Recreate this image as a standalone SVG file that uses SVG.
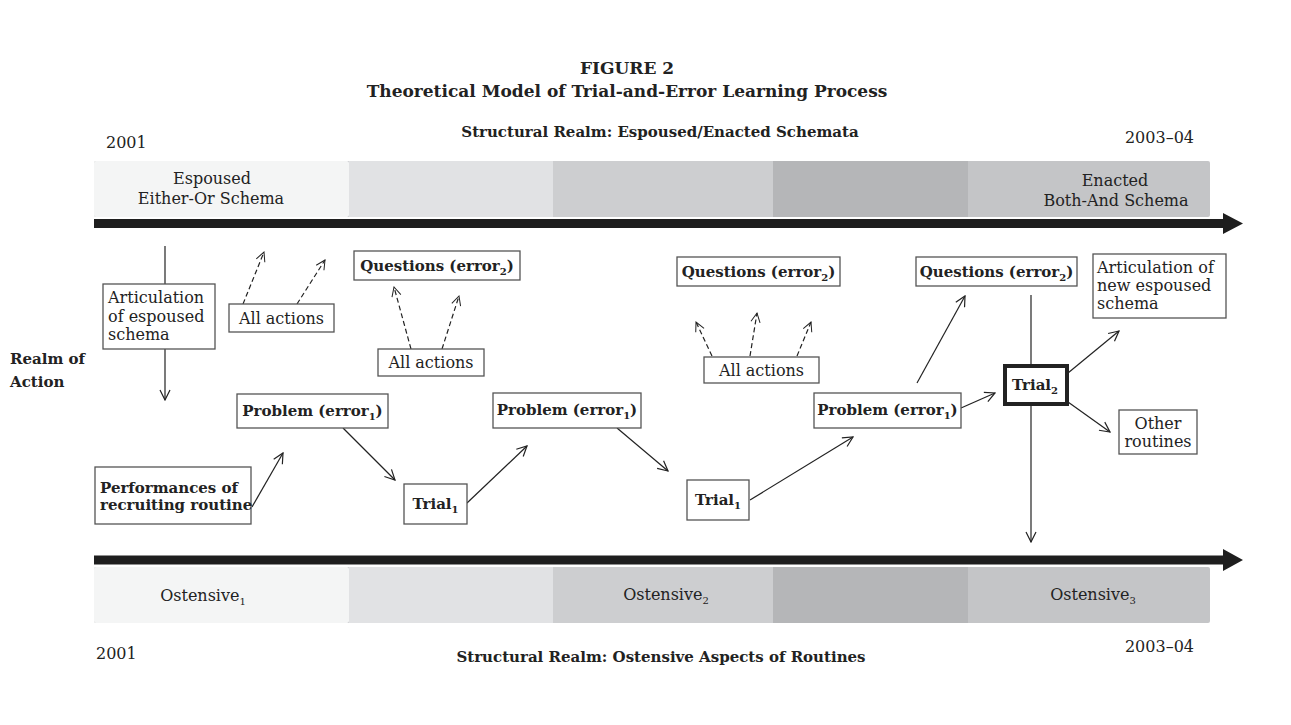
<svg xmlns="http://www.w3.org/2000/svg" width="1291" height="725" viewBox="0 0 1291 725">
<defs>
<marker id="ah" viewBox="0 0 12 12" refX="11" refY="6" markerWidth="12" markerHeight="12" markerUnits="userSpaceOnUse" orient="auto">
<path d="M1,1 L11,6 L1,11" fill="none" stroke="#222" stroke-width="1.2"/>
</marker>
<marker id="ahd" viewBox="0 0 12 12" refX="11" refY="6" markerWidth="11" markerHeight="11" markerUnits="userSpaceOnUse" orient="auto">
<path d="M1,1 L11,6 L1,11" fill="none" stroke="#222" stroke-width="1.1"/>
</marker>
</defs>
<style>
.bg{fill:#ffffff}
.box{fill:#ffffff;stroke:#555;stroke-width:1.3}
.thick{fill:#ffffff;stroke:#222;stroke-width:4}
.t{font-family:"DejaVu Serif","Liberation Serif",serif;font-size:16px;fill:#222}
.b{font-family:"DejaVu Serif","Liberation Serif",serif;font-size:15px;font-weight:bold;fill:#222}
.h{font-family:"DejaVu Serif","Liberation Serif",serif;font-size:17px;font-weight:bold;fill:#222}
.sub{font-size:10px}
.mid{text-anchor:middle}
.c{stroke:#222;stroke-width:1.2;fill:none}
.c1{marker-end:url(#ah)}
.d{stroke-dasharray:5 3;marker-end:url(#ahd)}
.axis{fill:#1e1e1e}
</style>
<rect class="bg" x="0" y="0" width="1291" height="725"/>

<!-- titles -->
<g id="titles">
<text class="h mid" x="627" y="74">FIGURE 2</text>
<text class="h mid" x="627" y="97">Theoretical Model of Trial-and-Error Learning Process</text>
<text class="b mid" x="660" y="137">Structural Realm: Espoused/Enacted Schemata</text>
<text class="t" x="106" y="148">2001</text>
<text class="t" x="1194" y="143" text-anchor="end">2003–04</text>
<text class="b mid" x="661" y="662">Structural Realm: Ostensive Aspects of Routines</text>
<text class="t" x="96" y="659">2001</text>
<text class="t" x="1194" y="652" text-anchor="end">2003–04</text>
<text class="b" x="10" y="364">Realm of</text>
<text class="b" x="10" y="387">Action</text>
</g>

<!-- top band -->
<g id="top-band">
<rect x="94" y="161" width="1116" height="56" rx="2" fill="#c4c5c7"/>
<rect x="94" y="161" width="255" height="56" rx="2" fill="#f4f5f5"/>
<rect x="349" y="161" width="204" height="56" fill="#e1e2e4"/>
<rect x="553" y="161" width="220" height="56" fill="#cdced0"/>
<rect x="773" y="161" width="195" height="56" fill="#b5b6b8"/>
<text class="t mid" x="212" y="184">Espoused</text>
<text class="t mid" x="211" y="204">Either-Or Schema</text>
<text class="t mid" x="1115" y="186">Enacted</text>
<text class="t mid" x="1116" y="206">Both-And Schema</text>
<path class="axis" d="M94,219 H1223 V213 L1243,223.5 L1223,234 V228 H94 Z"/>
</g>

<!-- bottom band -->
<g id="bottom-band">
<rect x="94" y="567" width="1116" height="56" rx="2" fill="#c4c5c7"/>
<rect x="94" y="567" width="255" height="56" rx="2" fill="#f4f5f5"/>
<rect x="349" y="567" width="204" height="56" fill="#e1e2e4"/>
<rect x="553" y="567" width="220" height="56" fill="#cdced0"/>
<rect x="773" y="567" width="195" height="56" fill="#b5b6b8"/>
<text class="t mid" x="203" y="601">Ostensive<tspan class="sub" dy="4">1</tspan></text>
<text class="t mid" x="666" y="600">Ostensive<tspan class="sub" dy="4">2</tspan></text>
<text class="t mid" x="1093" y="600">Ostensive<tspan class="sub" dy="4">3</tspan></text>
<path class="axis" d="M94,555.5 H1223 V549 L1243,560 L1223,571 V564.5 H94 Z"/>
</g>

<!-- connectors -->
<g id="connectors">
<line class="c" x1="165" y1="246" x2="165" y2="284"/>
<line class="c c1" x1="165" y1="349" x2="165" y2="400"/>
<line class="c d" x1="243" y1="304" x2="264" y2="252"/>
<line class="c d" x1="297" y1="304" x2="325" y2="260"/>
<line class="c d" x1="411" y1="349" x2="394" y2="287"/>
<line class="c d" x1="442" y1="349" x2="459" y2="296"/>
<line class="c d" x1="712" y1="356" x2="696" y2="322"/>
<line class="c d" x1="750" y1="356" x2="757" y2="313"/>
<line class="c d" x1="797" y1="356" x2="811" y2="322"/>
<line class="c c1" x1="252" y1="507" x2="283" y2="453"/>
<line class="c c1" x1="343" y1="428" x2="395" y2="480"/>
<line class="c c1" x1="467" y1="503" x2="527" y2="446"/>
<line class="c c1" x1="617" y1="428" x2="668" y2="471"/>
<line class="c c1" x1="750" y1="500" x2="853" y2="437"/>
<line class="c c1" x1="917" y1="383" x2="965" y2="296"/>
<line class="c c1" x1="961" y1="408" x2="995" y2="393"/>
<line class="c" x1="1031" y1="295" x2="1031" y2="364"/>
<line class="c c1" x1="1031" y1="405" x2="1031" y2="542"/>
<line class="c c1" x1="1068" y1="373" x2="1119" y2="331"/>
<line class="c c1" x1="1068" y1="402" x2="1110" y2="432"/>
</g>

<!-- nodes -->
<g id="articulation">
<rect class="box" x="103" y="284" width="112" height="65"/>
<text class="t" x="108" y="303">Articulation</text>
<text class="t" x="108" y="322">of espoused</text>
<text class="t" x="108" y="340">schema</text>
</g>
<g id="all-actions-1">
<rect class="box" x="229" y="304" width="105" height="28"/>
<text class="t mid" x="281.5" y="324">All actions</text>
</g>
<g id="questions-1">
<rect class="box" x="354" y="251" width="166" height="29"/>
<text class="b mid" x="437" y="271">Questions (error<tspan class="sub" dy="4">2</tspan><tspan dy="-4">)</tspan></text>
</g>
<g id="all-actions-2">
<rect class="box" x="378" y="349" width="106" height="27"/>
<text class="t mid" x="431" y="368">All actions</text>
</g>
<g id="problem-1">
<rect class="box" x="237" y="394" width="151" height="34"/>
<text class="b mid" x="312.5" y="416">Problem (error<tspan class="sub" dy="4">1</tspan><tspan dy="-4">)</tspan></text>
</g>
<g id="performances">
<rect class="box" x="95" y="467" width="156" height="57"/>
<text class="b" x="100" y="493">Performances of</text>
<text class="b" x="100" y="510">recruiting routine</text>
</g>
<g id="trial-1a">
<rect class="box" x="404" y="484" width="63" height="40"/>
<text class="b mid" x="435.5" y="509">Trial<tspan class="sub" dy="4">1</tspan></text>
</g>
<g id="problem-2">
<rect class="box" x="493" y="393" width="148" height="35"/>
<text class="b mid" x="567" y="415">Problem (error<tspan class="sub" dy="4">1</tspan><tspan dy="-4">)</tspan></text>
</g>
<g id="questions-2">
<rect class="box" x="677" y="257" width="163" height="29"/>
<text class="b mid" x="758.5" y="277">Questions (error<tspan class="sub" dy="4">2</tspan><tspan dy="-4">)</tspan></text>
</g>
<g id="all-actions-3">
<rect class="box" x="704" y="357" width="115" height="26"/>
<text class="t mid" x="761.5" y="376">All actions</text>
</g>
<g id="trial-1b">
<rect class="box" x="687" y="480" width="62" height="40"/>
<text class="b mid" x="718" y="505">Trial<tspan class="sub" dy="4">1</tspan></text>
</g>
<g id="problem-3">
<rect class="box" x="814" y="393" width="147" height="35"/>
<text class="b mid" x="887.5" y="415">Problem (error<tspan class="sub" dy="4">1</tspan><tspan dy="-4">)</tspan></text>
</g>
<g id="questions-3">
<rect class="box" x="916" y="257" width="161" height="29"/>
<text class="b mid" x="996.5" y="277">Questions (error<tspan class="sub" dy="4">2</tspan><tspan dy="-4">)</tspan></text>
</g>
<g id="trial-2">
<rect class="thick" x="1005" y="366" width="62" height="38"/>
<text class="b mid" x="1035" y="390">Trial<tspan class="sub" dy="4">2</tspan></text>
</g>
<g id="articulation-new">
<rect class="box" x="1093" y="254" width="133" height="64"/>
<text class="t" x="1097" y="273">Articulation of</text>
<text class="t" x="1097" y="291">new espoused</text>
<text class="t" x="1097" y="309">schema</text>
</g>
<g id="other-routines">
<rect class="box" x="1119" y="410" width="78" height="44"/>
<text class="t mid" x="1158" y="429">Other</text>
<text class="t mid" x="1158" y="447">routines</text>
</g>
</svg>
